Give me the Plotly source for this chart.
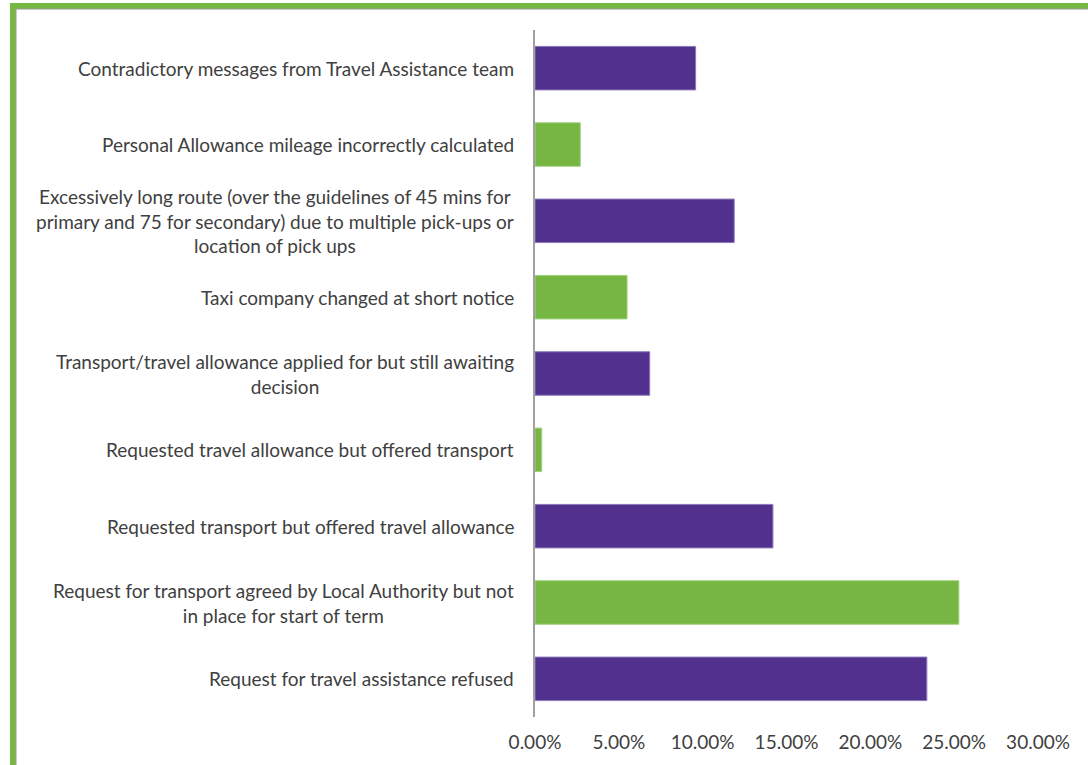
import plotly.graph_objects as go

categories = [
    "Contradictory messages from Travel Assistance team",
    "Personal Allowance mileage incorrectly calculated",
    "Excessively long route (over the guidelines of 45 mins for<br>primary and 75 for secondary) due to multiple pick-ups or<br>location of pick ups",
    "Taxi company changed at short notice",
    "Transport/travel allowance applied for but still awaiting<br>decision",
    "Requested travel allowance but offered transport",
    "Requested transport but offered travel allowance",
    "Request for transport agreed by Local Authority but not<br>in place for start of term",
    "Request for travel assistance refused",
]
values = [0.0958, 0.0270, 0.1188, 0.0549, 0.0684, 0.0040, 0.1419, 0.2528, 0.2337]
tick_vals = [0, 0.05, 0.10, 0.15, 0.20, 0.25, 0.30]

PURPLE = "#52308E"
GREEN = "#76B743"
bar_colors = [PURPLE if i % 2 == 0 else GREEN for i in range(len(categories))]
line_colors = ["#8A78B8" if i % 2 == 0 else "#A3D07F" for i in range(len(categories))]

FONT = "Lato"
TXT = "#404040"
FS = 19

fig = go.Figure(go.Bar(
    x=values,
    y=categories,
    orientation="h",
    marker=dict(color=bar_colors, line=dict(color=line_colors, width=1)),
    width=0.57,
    hoverinfo="skip",
))

annotations = []
for c in categories:
    annotations.append(dict(
        x=0, xref="paper", y=c, yref="y",
        text=c, showarrow=False, xanchor="right", yanchor="middle",
        align="center", xshift=-19,
        font=dict(family=FONT, size=FS, color=TXT),
    ))

shapes = [
    # green outer frame (left and top edges visible)
    dict(type="rect", xref="paper", yref="paper",
         x0=-1.0378, x1=1.3, y0=-0.3, y1=1.0349,
         line=dict(color="#77B843", width=6), fillcolor="rgba(0,0,0,0)", layer="above"),
    dict(type="rect", xref="paper", yref="paper",
         x0=-1.0318, x1=1.3, y0=-0.3, y1=1.0305,
         line=dict(color="#9A9A9A", width=1), fillcolor="rgba(0,0,0,0)", layer="above"),
]

fig.update_layout(
    width=1088, height=765,
    margin=dict(l=535, r=50, t=30, b=48),
    paper_bgcolor="white", plot_bgcolor="white",
    showlegend=False,
    hovermode=False,
    font=dict(family=FONT, size=FS, color=TXT),
    annotations=annotations,
    shapes=shapes,
    xaxis=dict(
        range=[0, 0.30], tickvals=tick_vals, tickformat=".2%",
        showgrid=False, zeroline=False, showline=False, ticks="",
        ticklabelstandoff=12, fixedrange=True,
        tickfont=dict(family=FONT, size=FS, color=TXT),
    ),
    yaxis=dict(
        autorange="reversed", showticklabels=False, showgrid=False,
        zeroline=False, showline=True, linecolor="#A0A0A0", linewidth=1.5,
        ticks="", fixedrange=True,
    ),
)

fig.write_html("out.html", config={"displayModeBar": False},
               post_script="document.body.style.margin='0px';")
